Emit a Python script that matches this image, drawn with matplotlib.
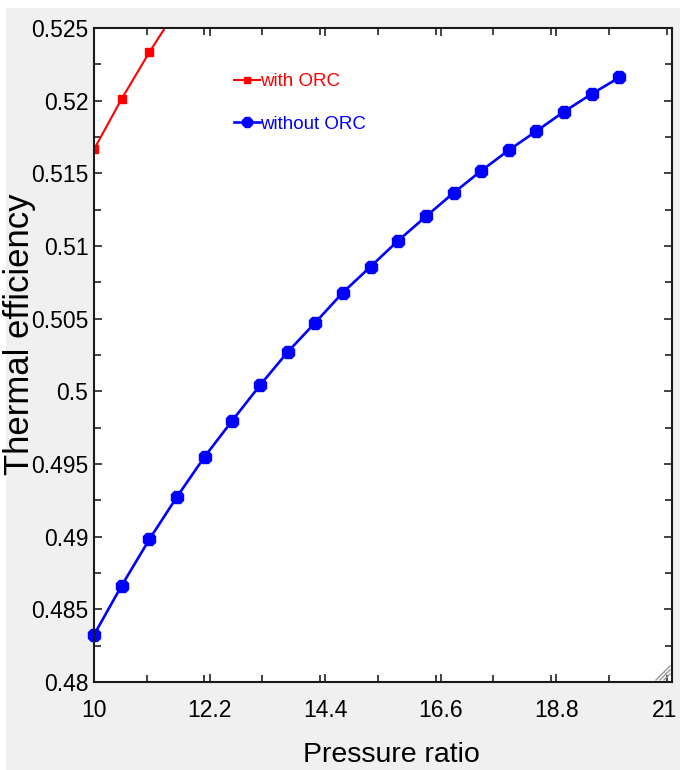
import matplotlib
matplotlib.use("Agg")
import matplotlib.pyplot as plt
import matplotlib.transforms as mtrans
from matplotlib.patches import Rectangle
from matplotlib.ticker import MultipleLocator, FixedLocator

# pressure ratio (x) and thermal efficiency for both cases
pressure_ratio = [10.0, 10.526, 11.053, 11.579, 12.105, 12.632, 13.158, 13.684,
                  14.211, 14.737, 15.263, 15.789, 16.316, 16.842, 17.368,
                  17.895, 18.421, 18.947, 19.474, 20.0]
eff_without_orc = [0.48324, 0.48663, 0.48981, 0.49274, 0.49550, 0.49799,
                   0.50041, 0.50270, 0.50473, 0.50680, 0.50858, 0.51037,
                   0.51203, 0.51365, 0.51517, 0.51660, 0.51791, 0.51925,
                   0.52047, 0.52160]
# only the first points of the ORC curve are inside the plotted range
pressure_ratio_orc = [10.0, 10.526, 11.053, 11.579]
eff_with_orc = [0.51665, 0.52012, 0.52333, 0.52630]

x_ticks = [10, 12.2, 14.4, 16.6, 18.8, 21]
x_tick_labels = ["10", "12.2", "14.4", "16.6", "18.8", "21"]
y_ticks = [0.48, 0.485, 0.49, 0.495, 0.5, 0.505, 0.51, 0.515, 0.52, 0.525]
y_tick_labels = ["0.48", "0.485", "0.49", "0.495", "0.5", "0.505", "0.51",
                 "0.515", "0.52", "0.525"]

fnt = ["Liberation Sans", "DejaVu Sans"]

fig = plt.figure(figsize=(6.8, 7.7), dpi=100)
fig.patch.set_facecolor("white")
# grey window panel behind the plot
fig.patches.append(Rectangle((6 / 680, 0), 1, (770 - 8) / 770,
                             transform=fig.transFigure, color="#f0f0f0",
                             zorder=-10))

ax = fig.add_axes([94 / 680, 1 - 682 / 770, 578 / 680, 654 / 770])
ax.set_facecolor("white")

ax.plot(pressure_ratio_orc, eff_with_orc, color="#ff0000", lw=1.5,
        marker="s", markersize=6, label="with ORC")
ax.plot(pressure_ratio, eff_without_orc, color="#0000ff", lw=1.9,
        marker="8", markersize=10, label="without ORC", clip_on=False)

ax.set_xlim(10, 21)
ax.set_ylim(0.48, 0.525)
ax.xaxis.set_major_locator(FixedLocator(x_ticks))
ax.xaxis.set_minor_locator(MultipleLocator(1.1))
ax.yaxis.set_major_locator(FixedLocator(y_ticks))
ax.yaxis.set_minor_locator(MultipleLocator(0.0025))
ax.set_xticklabels(x_tick_labels, family=fnt, fontsize=16.5)
ax.set_yticklabels(y_tick_labels, family=fnt, fontsize=16.5)

ax.tick_params(which="both", direction="in", top=True, right=True,
               width=1.2, color="#222222")
ax.tick_params(which="major", length=6)
ax.tick_params(which="minor", length=5)
ax.tick_params(axis="x", which="major", pad=12)
ax.tick_params(axis="y", which="major", pad=4)

for sp in ax.spines.values():
    sp.set_linewidth(1.5)
    sp.set_color("#1a1a1a")

ax.set_xlabel("Pressure ratio", family=fnt, fontsize=20.5)
ax.xaxis.set_label_coords(0.515, -0.092)
ax.set_ylabel("Thermal efficiency", family=fnt, fontsize=25)
ax.yaxis.set_label_coords(-0.100, 0.531)

leg = ax.legend(loc="upper left", bbox_to_anchor=(0.213, 0.957), frameon=False,
                handlelength=1.4, handletextpad=0.0, labelspacing=1.35,
                prop={"family": fnt, "size": 13.5}, labelcolor="linecolor",
                markerscale=0.8)

# little resize grip in the bottom right corner
for x0, y1 in [(656, 666), (660, 670), (664, 674)]:
    fig.add_artist(plt.Line2D([x0 / 680, 670 / 680],
                              [1 - 680 / 770, 1 - y1 / 770],
                              transform=fig.transFigure, color="#999999",
                              lw=1.0))

# the last x label sits a bit left of its tick, as in the original window
fig.canvas.draw()
last = ax.get_xticklabels()[-1]
last.set_transform(last.get_transform()
                   + mtrans.ScaledTranslation(-7 / 100, 0, fig.dpi_scale_trans))

fig.savefig("out.png", dpi=100, facecolor=fig.get_facecolor())
